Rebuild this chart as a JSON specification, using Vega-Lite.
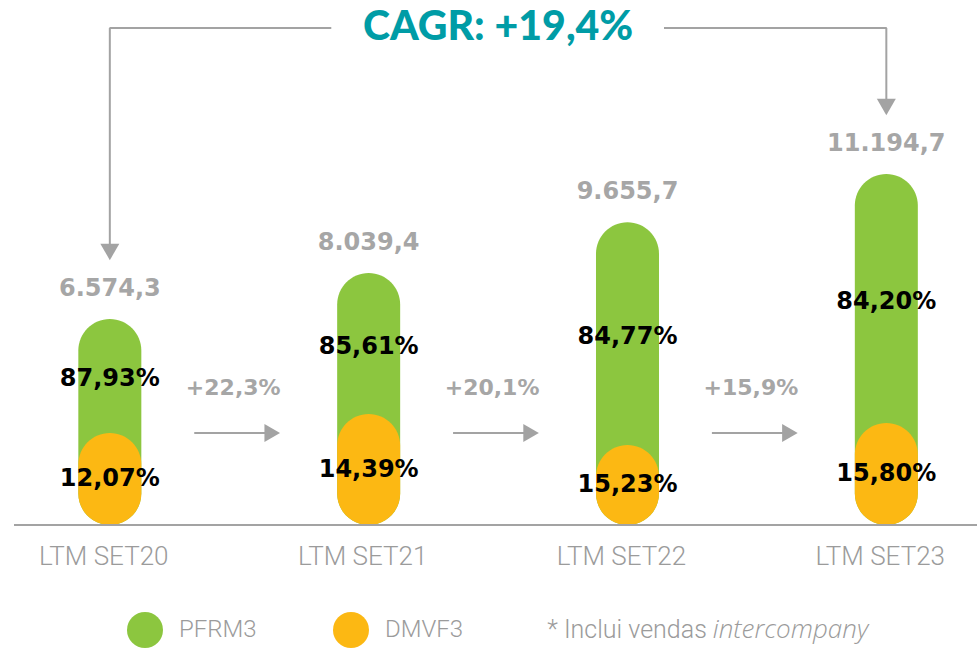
{
  "$schema": "https://vega.github.io/schema/vega-lite/v6.json",
  "width": 977,
  "height": 648,
  "autosize": {"type": "none"},
  "padding": 0,
  "background": "white",
  "config": {"view": {"stroke": null}, "axis": {"disable": true}},
  "datasets": {
    "periods": [
      {"idx": 0, "period": "LTM SET20", "total": 6574.3, "total_label": "6.574,3", "pfrm3_pct": "87,93%", "dmvf3_pct": "12,07%", "dmvf3_pill": 2935, "base": 0},
      {"idx": 1, "period": "LTM SET21", "total": 8039.4, "total_label": "8.039,4", "pfrm3_pct": "85,61%", "dmvf3_pct": "14,39%", "dmvf3_pill": 3540, "base": 0},
      {"idx": 2, "period": "LTM SET22", "total": 9655.7, "total_label": "9.655,7", "pfrm3_pct": "84,77%", "dmvf3_pct": "15,23%", "dmvf3_pill": 2550, "base": 0},
      {"idx": 3, "period": "LTM SET23", "total": 11194.7, "total_label": "11.194,7", "pfrm3_pct": "84,20%", "dmvf3_pct": "15,80%", "dmvf3_pill": 3250, "base": 0}
    ],
    "bars": [
      {"idx": 0, "series": "PFRM3", "top": 6574.3},
      {"idx": 1, "series": "PFRM3", "top": 8039.4},
      {"idx": 2, "series": "PFRM3", "top": 9655.7},
      {"idx": 3, "series": "PFRM3", "top": 11194.7},
      {"idx": 0, "series": "DMVF3", "top": 2935},
      {"idx": 1, "series": "DMVF3", "top": 3540},
      {"idx": 2, "series": "DMVF3", "top": 2550},
      {"idx": 3, "series": "DMVF3", "top": 3250}
    ],
    "growth": [
      {"mid": 0.5, "growth": "+22,3%"},
      {"mid": 1.5, "growth": "+20,1%"},
      {"mid": 2.5, "growth": "+15,9%"}
    ]
  },
  "layer": [
    {
      "data": {"name": "bars"},
      "mark": {"type": "bar", "width": 63, "cornerRadius": 31.5},
      "encoding": {
        "x": {"field": "idx", "type": "quantitative", "scale": {"domain": [-0.405, 3.331], "nice": false, "zero": false}},
        "y": {"field": "top", "type": "quantitative", "stack": null, "scale": {"domain": [-3923.7, 16747.5], "nice": false, "zero": false}},
        "y2": {"datum": 0},
        "color": {
          "field": "series", "type": "nominal",
          "scale": {"domain": ["PFRM3", "DMVF3"], "range": ["#8cc63f", "#fcb813"]},
          "legend": {"orient": "none", "legendX": 127, "legendY": 612, "direction": "horizontal", "title": null,
            "symbolType": "circle", "symbolSize": 1296, "symbolStrokeWidth": 0, "symbolOpacity": 1,
            "labelFont": "Roboto", "labelFontWeight": 300, "labelFontSize": 24, "labelColor": "#9b9b9b",
            "labelOffset": 16, "columnPadding": 76, "padding": 0}
        }
      }
    },
    {
      "data": {"name": "periods"},
      "mark": {"type": "rule", "color": "#a3a3a3", "strokeWidth": 2},
      "encoding": {
        "x": {"datum": -0.37},
        "x2": {"datum": 3.4},
        "y": {"datum": 0}
      }
    },
    {
      "data": {"name": "periods"},
      "mark": {"type": "text", "font": "Roboto", "fontWeight": 300, "fontSize": 26, "color": "#9b9b9b", "baseline": "middle", "dx": -6},
      "encoding": {
        "x": {"field": "idx", "type": "quantitative"},
        "y": {"datum": -1021},
        "text": {"field": "period"}
      }
    },
    {
      "data": {"name": "periods"},
      "mark": {"type": "text", "font": "DejaVu Sans", "fontWeight": "bold", "fontSize": 24, "color": "#a6a6a6", "baseline": "middle", "dy": -30},
      "encoding": {
        "x": {"field": "idx", "type": "quantitative"},
        "y": {"field": "total", "type": "quantitative"},
        "text": {"field": "total_label"}
      }
    },
    {
      "data": {"name": "periods"},
      "transform": [{"fold": ["total", "dmvf3_pill"], "as": ["k", "v"]}],
      "mark": {"type": "text", "font": "DejaVu Sans", "fontWeight": "bold", "fontSize": 24, "color": "#000000", "baseline": "middle", "dy": 3},
      "encoding": {
        "x": {"field": "idx", "type": "quantitative"},
        "y": {"aggregate": "mean", "field": "v", "type": "quantitative"},
        "text": {"field": "pfrm3_pct"}
      }
    },
    {
      "data": {"name": "periods"},
      "transform": [{"fold": ["dmvf3_pill", "base"], "as": ["k", "v"]}],
      "mark": {"type": "text", "font": "DejaVu Sans", "fontWeight": "bold", "fontSize": 24, "color": "#000000", "baseline": "middle"},
      "encoding": {
        "x": {"field": "idx", "type": "quantitative"},
        "y": {"aggregate": "mean", "field": "v", "type": "quantitative"},
        "text": {"field": "dmvf3_pct"}
      }
    },
    {
      "data": {"name": "growth"},
      "mark": {"type": "rule", "color": "#a3a3a3", "strokeWidth": 2, "xOffset": -45, "x2Offset": 32},
      "encoding": {
        "x": {"field": "mid", "type": "quantitative"},
        "x2": {"field": "mid"},
        "y": {"datum": 2935}
      }
    },
    {
      "data": {"name": "growth"},
      "mark": {"type": "point", "shape": "triangle-right", "filled": true, "size": 324, "color": "#a3a3a3", "opacity": 1, "xOffset": 33},
      "encoding": {
        "x": {"field": "mid", "type": "quantitative"},
        "y": {"datum": 2935}
      }
    },
    {
      "data": {"name": "growth"},
      "mark": {"type": "text", "font": "DejaVu Sans", "fontWeight": "bold", "fontSize": 22, "color": "#a6a6a6", "baseline": "middle", "dx": -6},
      "encoding": {
        "x": {"field": "mid", "type": "quantitative"},
        "y": {"datum": 4370},
        "text": {"field": "growth"}
      }
    },
    {
      "data": {"name": "periods"},
      "mark": {"type": "rule", "color": "#a3a3a3", "strokeWidth": 2, "x2Offset": -167},
      "encoding": {
        "x": {"datum": 0},
        "x2": {"datum": 1.5},
        "y": {"datum": 15854}
      }
    },
    {
      "data": {"name": "periods"},
      "mark": {"type": "rule", "color": "#a3a3a3", "strokeWidth": 2, "xOffset": 166},
      "encoding": {
        "x": {"datum": 1.5},
        "x2": {"datum": 3},
        "y": {"datum": 15854}
      }
    },
    {
      "data": {"name": "periods"},
      "transform": [{"filter": "datum.idx == 0 || datum.idx == 3"}],
      "mark": {"type": "rule", "color": "#a3a3a3", "strokeWidth": 2, "yOffset": -72},
      "encoding": {
        "x": {"field": "idx", "type": "quantitative"},
        "y": {"field": "total", "type": "quantitative"},
        "y2": {"datum": 15854}
      }
    },
    {
      "data": {"name": "periods"},
      "transform": [{"filter": "datum.idx == 0 || datum.idx == 3"}],
      "mark": {"type": "point", "shape": "triangle-down", "filled": true, "size": 361, "color": "#a3a3a3", "opacity": 1, "yOffset": -67},
      "encoding": {
        "x": {"field": "idx", "type": "quantitative"},
        "y": {"field": "total", "type": "quantitative"}
      }
    },
    {
      "data": {"name": "periods"},
      "transform": [{"filter": "datum.idx == 0"}],
      "mark": {"type": "text", "font": "Lato", "fontWeight": 900, "fontSize": 41, "color": "#009ca6", "baseline": "middle", "align": "center"},
      "encoding": {
        "x": {"datum": 1.5},
        "y": {"datum": 15854},
        "text": {"value": "CAGR: +19,4%"}
      }
    },
    {
      "data": {"name": "periods"},
      "transform": [{"filter": "datum.idx == 0"}],
      "mark": {"type": "text", "font": "Roboto", "fontWeight": 300, "fontSize": 25, "color": "#9b9b9b", "baseline": "middle", "align": "right", "dx": -3},
      "encoding": {
        "x": {"datum": 2.318},
        "y": {"datum": -3350},
        "text": {"value": "* Inclui vendas"}
      }
    },
    {
      "data": {"name": "periods"},
      "transform": [{"filter": "datum.idx == 0"}],
      "mark": {"type": "text", "font": "Open Sans", "fontWeight": 300, "fontStyle": "italic", "fontSize": 26, "color": "#9b9b9b", "baseline": "middle", "align": "left", "dx": 3},
      "encoding": {
        "x": {"datum": 2.318},
        "y": {"datum": -3350},
        "text": {"value": "intercompany"}
      }
    }
  ]
}
